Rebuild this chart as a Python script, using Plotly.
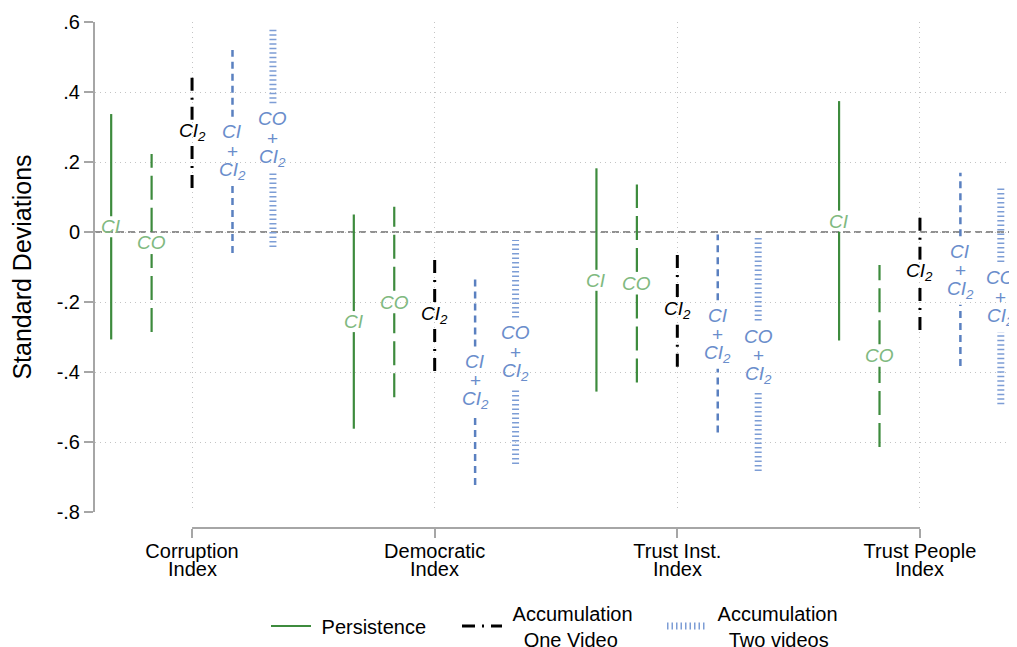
import plotly.graph_objects as go

# ---------------- data ----------------
cat_line1 = ["Corruption", "Democratic", "Trust Inst.", "Trust People"]
cat_line2 = ["Index", "Index", "Index", "Index"]

ytick_vals = [0.6, 0.4, 0.2, 0.0, -0.2, -0.4, -0.6, -0.8]
ytick_text = [".6", ".4", ".2", "0", "-.2", "-.4", "-.6", "-.8"]

# CI  (Persistence, solid)
ci_est = [0.015, -0.256, -0.138, 0.031]
ci_lo = [-0.307, -0.562, -0.456, -0.310]
ci_hi = [0.337, 0.050, 0.182, 0.374]
# CO  (Persistence, long dash)
co_est = [-0.031, -0.200, -0.146, -0.353]
co_lo = [-0.286, -0.472, -0.430, -0.614]
co_hi = [0.223, 0.072, 0.136, -0.094]
# CI2 (Accumulation one video)
ci2_est = [0.285, -0.236, -0.222, -0.115]
ci2_lo = [0.126, -0.397, -0.385, -0.280]
ci2_hi = [0.454, -0.066, -0.049, 0.053]
# CI + CI2
cici2_est = [0.231, -0.425, -0.293, -0.110]
cici2_lo = [-0.060, -0.723, -0.573, -0.383]
cici2_hi = [0.520, -0.126, -0.007, 0.169]
# CO + CI2 (Accumulation two videos)
coci2_est = [0.268, -0.344, -0.353, -0.186]
coci2_lo = [-0.043, -0.663, -0.683, -0.492]
coci2_hi = [0.580, -0.023, -0.015, 0.127]

# ---------------- styling ----------------
FONT = "Liberation Sans, Arial, sans-serif"
GREEN = "#3d8b3d"
GREEN_LBL = "#80b980"
BLUE = "#5a80c0"
BLUE_LBL = "#6a8dcb"
BLUE_LIGHT = "#7d9dd5"
GRID = "#c4c4c4"
AXIS = "#a6a6a6"
NB = "\u00a0"

# page has an 8px body margin: figure is sized/offset to compensate
W, H = 1009, 639
ML, MT, MB, MR = 87, 14, 119, 0
plot_w = W - ML - MR
plot_h = H - MT - MB

offsets = [-1/3, -1/6, 0.0, 1/6, 1/3]

series = [
    # est, lo, hi, name, legend, color, dash, width, label lines, label color, gap
    (ci_est, ci_lo, ci_hi, NB + "Persistence", "legend", GREEN, "solid", 2.2,
     ["<i>CI</i>"], GREEN_LBL, 0.030),
    (co_est, co_lo, co_hi, "CO", None, GREEN, "24px,8px", 2.2,
     ["<i>CO</i>"], GREEN_LBL, 0.032),
    (ci2_est, ci2_lo, ci2_hi, NB + "Accumulation<br>" + NB * 3 + "One Video", "legend2", "black",
     "13px,7px,2px,7px", 3, ["<i>CI<sub>2</sub></i>"], "black", 0.036),
    (cici2_est, cici2_lo, cici2_hi, "CI+CI2", None, BLUE, "7px,5px", 2.5,
     ["<i>CI</i>", "+", "<i>CI<sub>2</sub></i>"], BLUE_LBL, 0.098),
    (coci2_est, coci2_lo, coci2_hi, NB + "Accumulation<br>" + NB * 3 + "Two videos", "legend3", BLUE_LIGHT,
     "1.5px,3px", 7, ["<i>CO</i>", "+", "<i>CI<sub>2</sub></i>"], BLUE_LBL, 0.100),
]

fig = go.Figure()
annotations = []

for k, (est, lo, hi, name, leg, color, dash, width, lbl, lblcol, gap) in enumerate(series):
    xs, ys = [], []
    for i in range(len(est)):
        x = i + 1 + offsets[k]
        xs += [x, x, None, x, x, None]
        ys += [lo[i], est[i] - gap, None, est[i] + gap, hi[i], None]
        n = len(lbl)
        for j, t in enumerate(lbl):
            shift = ((n - 1) / 2 - j) * 19.5
            annotations.append(dict(
                x=x, y=est[i], xref="x", yref="y", text=t, showarrow=False,
                xanchor="center", yanchor="middle", yshift=shift,
                font=dict(family=FONT, size=19, color=lblcol)))
    tr = dict(x=xs, y=ys, mode="lines", name=name, showlegend=leg is not None,
              line=dict(color=color, dash=dash, width=width), hoverinfo="skip")
    if leg is not None:
        tr["legend"] = leg
    fig.add_trace(go.Scatter(**tr))

# second line of category labels
for i, t in enumerate(cat_line2):
    annotations.append(dict(
        x=i + 1, y=0, xref="x", yref="paper", text=t, showarrow=False,
        xanchor="center", yanchor="middle", yshift=-41,
        font=dict(family=FONT, size=20, color="black")))

shapes = [
    dict(type="line", xref="paper", x0=0, x1=1, yref="y", y0=0, y1=0,
         line=dict(color="#6e6e6e", width=1.5, dash="7px,4px"), layer="between"),
    dict(type="line", xref="x", x0=1, x1=4, yref="paper", y0=0, y1=0,
         line=dict(color=AXIS, width=2), layer="above"),
]

def px2paper_x(page_x):
    return (page_x - 8 - ML) / plot_w

leg_y = -98 / plot_h
leg_common = dict(orientation="h", xanchor="left", yanchor="middle", y=leg_y,
                  font=dict(family=FONT, size=20, color="black"),
                  bgcolor="rgba(0,0,0,0)", itemwidth=40)

fig.update_layout(
    width=W, height=H,
    margin=dict(l=ML, r=MR, t=MT, b=MB, autoexpand=False),
    plot_bgcolor="white", paper_bgcolor="white",
    font=dict(family=FONT, size=20, color="black"),
    xaxis=dict(
        range=[0.6, 4.4], tickmode="array", tickvals=[1, 2, 3, 4], ticktext=cat_line1,
        showline=False, ticks="outside", ticklen=9, tickwidth=2, tickcolor=AXIS,
        ticklabelstandoff=-4,
        showgrid=True, gridcolor=GRID, griddash="1px,4px", gridwidth=1,
        zeroline=False, anchor="free", position=0,
        tickfont=dict(family=FONT, size=20, color="black")),
    yaxis=dict(
        domain=[16 / plot_h, 1], range=[-0.8, 0.6],
        tickmode="array", tickvals=ytick_vals, ticktext=ytick_text,
        ticks="outside", ticklen=9, tickwidth=2, tickcolor=AXIS,
        showline=True, linecolor=AXIS, linewidth=2,
        showgrid=True, gridcolor=GRID, griddash="1px,4px", gridwidth=1,
        zeroline=False,
        tickfont=dict(family=FONT, size=20, color="black"),
        title=dict(text="Standard Deviations", font=dict(family=FONT, size=25, color="black"),
                   standoff=20)),
    legend=dict(x=px2paper_x(266), **leg_common),
    legend2=dict(x=px2paper_x(457), **leg_common),
    legend3=dict(x=px2paper_x(662), **leg_common),
    annotations=annotations,
    shapes=shapes,
)

fig.write_html("out.html")
